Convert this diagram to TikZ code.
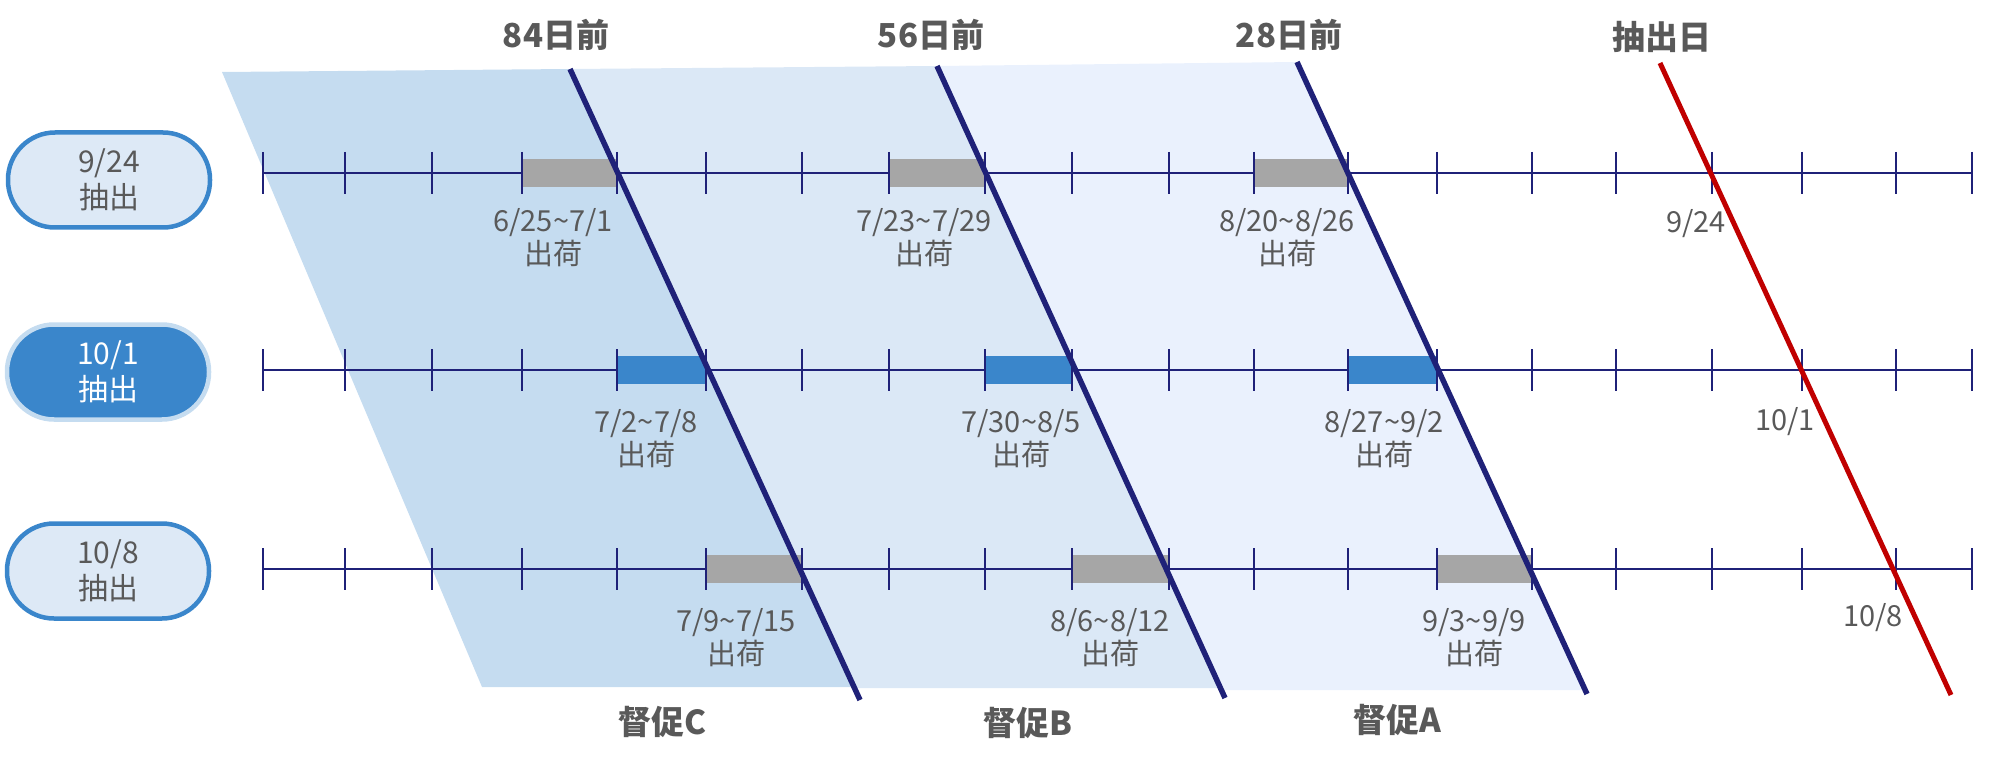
\documentclass[tikz,border=0pt]{standalone}
\usepackage{fontspec}
\setmainfont{Noto Sans CJK JP}
\usetikzlibrary{positioning}

\definecolor{navy}{RGB}{31,33,120}
\definecolor{txtgray}{RGB}{89,89,89}
\definecolor{barblue}{RGB}{58,134,203}
\definecolor{bargray}{RGB}{166,166,166}
\definecolor{shadeC}{RGB}{197,220,240}
\definecolor{shadeB}{RGB}{219,232,246}
\definecolor{shadeA}{RGB}{234,241,253}
\definecolor{pillfill}{RGB}{221,233,246}
\definecolor{cutred}{RGB}{192,0,0}

\begin{document}
\begin{tikzpicture}[x=1pt, y=-1pt,
  toplbl/.style={font=\bfseries\fontsize{33}{38}\selectfont, text=txtgray, inner sep=0pt},
  datelbl/.style={font=\fontsize{29}{33}\selectfont, text=txtgray, align=center, inner sep=0pt},
  daylbl/.style={font=\fontsize{29}{33}\selectfont, text=txtgray, inner sep=0pt},
  pill/.style={rectangle, rounded corners=47pt, line width=4.5pt, draw=barblue, fill=pillfill, minimum width=202pt, minimum height=95pt, align=center, inner sep=0pt, font=\fontsize{30}{36}\selectfont, text=txtgray},
  pillon/.style={pill, draw=shadeC, fill=barblue, text=white},
  axisline/.style={draw=navy, line width=2pt},
  tickline/.style={draw=navy, line width=2pt},
  cutline/.style={draw=navy, line width=5.5pt},
  todayline/.style={draw=cutred, line width=5pt}
]
\useasboundingbox (0,0) rectangle (1989,770);

\coordinate (d84top) at (570,69);
\coordinate (d84bot) at (860,700);
\coordinate (d56top) at (937,66);
\coordinate (d56bot) at (1225,698);
\coordinate (d28top) at (1297,62);
\coordinate (d28bot) at (1587,694);
\coordinate (d0top) at (1660,63);
\coordinate (d0bot) at (1951,695);

% reminder periods
\fill[shadeC] (222,72) -- (d84top) -- (854,687) -- (482,687) -- cycle;
\fill[shadeB] (d84top) -- (d56top) -- (1220,688) -- (854,688) -- cycle;
\fill[shadeA] (d56top) -- (d28top) -- (1585,690) -- (1221,690) -- cycle;

% time axes
\coordinate (r1a) at (263,173);
\coordinate (r1b) at (1972,173);
\coordinate (r2a) at (263,370);
\coordinate (r2b) at (1972,370);
\coordinate (r3a) at (263,569);
\coordinate (r3b) at (1972,569);
\draw[axisline] (r1a) -- (r1b);
\draw[axisline] (r2a) -- (r2b);
\draw[axisline] (r3a) -- (r3b);

% shipping weeks
\fill[bargray] (522,159) rectangle (617,187);
\fill[bargray] (889,159) rectangle (985,187);
\fill[bargray] (1254,159) rectangle (1348,187);
\fill[barblue] (617,356) rectangle (706,384);
\fill[barblue] (985,356) rectangle (1072,384);
\fill[barblue] (1348,356) rectangle (1437,384);
\fill[bargray] (706,555) rectangle (802,583);
\fill[bargray] (1072,555) rectangle (1169,583);
\fill[bargray] (1437,555) rectangle (1532,583);

\foreach \y in {173,370,569}
  \foreach \x in {263,345,432,522,617,706,802,889,985,1072,1169,1254,1348,1437,1532,1616,1712,1802,1896,1972}
    \draw[tickline] (\x,\y-21) -- (\x,\y+21);

\draw[cutline] (d84top) -- (d84bot);
\draw[cutline] (d56top) -- (d56bot);
\draw[cutline] (d28top) -- (d28bot);
\draw[todayline] (d0top) -- (d0bot);

\node[toplbl] (d84) at (556,35) {84日前};
\node[toplbl] (d56) at (931,35) {56日前};
\node[toplbl] (d28) at (1289,35) {28日前};
\node[toplbl] (d0) at (1662,37) {抽出日};
\node[toplbl] (remC) at (662,722) {督促C};
\node[toplbl] (remB) at (1028,723) {督促B};
\node[toplbl] (remA) at (1397,720) {督促A};

\node[pill] (ext0924) at (109,180) {9/24\\抽出};
\node[pillon] (ext1001) at (108,372) {10/1\\抽出};
\node[pill] (ext1008) at (108,571) {10/8\\抽出};

\node[datelbl] (s0625) at (553,238) {6/25\textasciitilde 7/1\\出荷};
\node[datelbl] (s0723) at (924,238) {7/23\textasciitilde 7/29\\出荷};
\node[datelbl] (s0820) at (1287,238) {8/20\textasciitilde 8/26\\出荷};
\node[datelbl] (s0702) at (646,439) {7/2\textasciitilde 7/8\\出荷};
\node[datelbl] (s0730) at (1021,439) {7/30\textasciitilde 8/5\\出荷};
\node[datelbl] (s0827) at (1384,439) {8/27\textasciitilde 9/2\\出荷};
\node[datelbl] (s0709) at (736,638) {7/9\textasciitilde 7/15\\出荷};
\node[datelbl] (s0806) at (1110,638) {8/6\textasciitilde 8/12\\出荷};
\node[datelbl] (s0903) at (1474,638) {9/3\textasciitilde 9/9\\出荷};

\node[daylbl] (x0924) at (1696,224) {9/24};
\node[daylbl] (x1001) at (1785,422) {10/1};
\node[daylbl] (x1008) at (1873,618) {10/8};

\end{tikzpicture}
\end{document}
